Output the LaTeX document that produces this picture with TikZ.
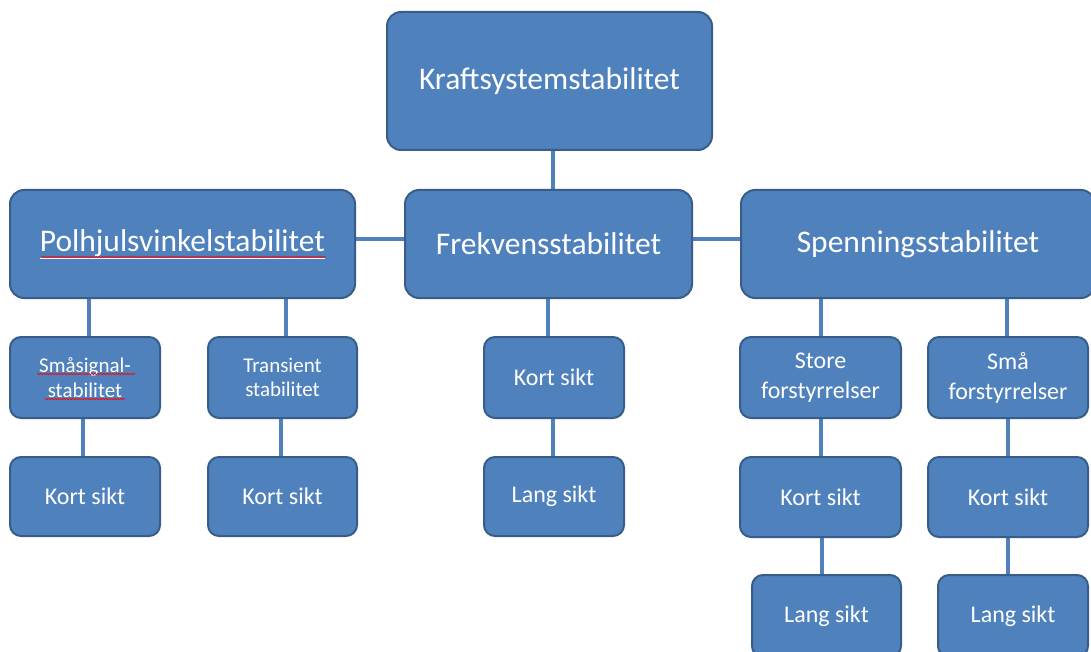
\documentclass[tikz,border=0pt]{standalone}
\usepackage{fontspec}
\setmainfont{Carlito}
\usetikzlibrary{backgrounds,decorations.pathmorphing}
\definecolor{boxfill}{HTML}{4F81BD}
\definecolor{boxline}{HTML}{385D8A}
\definecolor{conn}{HTML}{4F81BD}
\begin{document}
\begin{tikzpicture}[x=1pt,y=-1pt,
  box/.style={rectangle, rounded corners=14pt, draw=boxline, fill=boxfill, line width=2pt,
    text=white, inner sep=0pt, align=center},
  bigbox/.style={box, font=\fontsize{31.5}{36}\selectfont},
  smallbox/.style={box, rounded corners=11pt, font=\fontsize{24}{30}\selectfont},
  tinybox/.style={box, rounded corners=11pt, font=\fontsize{21}{24.5}\selectfont},
  link/.style={draw=conn, line width=4pt},
  spell/.style={draw=red, line width=0.7pt, decorate, decoration={snake, amplitude=0.7pt, segment length=3pt}}]
\useasboundingbox (0,0) rectangle (1091,652);
\clip (0,0) rectangle (1091,652);

\node[bigbox, minimum width=325pt, minimum height=138pt] (top) at (549.5,81) {Kraftsystemstabilitet};
\node[bigbox, minimum width=345pt, minimum height=108pt] (pol) at (182.5,244) {\underline{Polhjulsvinkelstabilitet}};
\node[bigbox, minimum width=287pt, minimum height=108pt] (frk) at (548.5,244) {Frekvensstabilitet};
\node[bigbox, minimum width=354pt, minimum height=108pt] (spn) at (918,244) {Spenningsstabilitet};

\node[tinybox, minimum width=150pt, minimum height=81pt] (sms) at (85,377.5) {Småsignal-\\stabilitet};
\node[tinybox, minimum width=149pt, minimum height=81pt] (tra) at (282.5,377.5) {Transient\\stabilitet};
\node[smallbox, minimum width=150pt, minimum height=79pt] (k1) at (85,496.5) {Kort sikt};
\node[smallbox, minimum width=149pt, minimum height=79pt] (k2) at (282.5,496.5) {Kort sikt};

\node[smallbox, minimum width=140pt, minimum height=81pt] (fk) at (554,377.5) {Kort sikt};
\node[smallbox, minimum width=140pt, minimum height=79pt] (fl) at (554,496.5) {Lang sikt};

\node[smallbox, minimum width=161pt, minimum height=81pt] (sto) at (820.5,377.5) {Store\\forstyrrelser};
\node[smallbox, minimum width=160pt, minimum height=81pt] (sma) at (1008,377.5) {Små\\forstyrrelser};
\node[smallbox, minimum width=161pt, minimum height=80pt] (sk) at (820.5,497) {Kort sikt};
\node[smallbox, minimum width=160pt, minimum height=80pt] (mk) at (1008,497) {Kort sikt};
\node[smallbox, minimum width=149pt, minimum height=82pt] (sl) at (826.5,616) {Lang sikt};
\node[smallbox, minimum width=150pt, minimum height=82pt] (ml) at (1013,616) {Lang sikt};

% spell-check marks
\path[spell] ([xshift=-141pt,yshift=-13pt]pol.center) -- ([xshift=143pt,yshift=-13pt]pol.center);
\path[spell] ([xshift=-48pt,yshift=3.5pt]sms.center) -- ([xshift=50pt,yshift=3.5pt]sms.center);
\path[spell] ([xshift=-40pt,yshift=-21.5pt]sms.center) -- ([xshift=40pt,yshift=-21.5pt]sms.center);

\begin{pgfonlayer}{background}
\fill[white] (0,0) rectangle (1091,652);
\draw[link] ([xshift=3.5pt]top.south) -- ([xshift=4.5pt]frk.north);
\draw[link] ([yshift=5pt]pol.east) -- ([yshift=5pt]frk.west);
\draw[link] ([yshift=5pt]frk.east) -- ([yshift=5pt]spn.west);
\draw[link] ([xshift=-93.5pt]pol.south) -- ([xshift=4pt]sms.north);
\draw[link] ([xshift=103.5pt]pol.south) -- ([xshift=3.5pt]tra.north);
\draw[link] ([xshift=-2pt]sms.south) -- ([xshift=-2pt]k1.north);
\draw[link] ([xshift=-1.5pt]tra.south) -- ([xshift=-1.5pt]k2.north);
\draw[link] ([xshift=-0.5pt]frk.south) -- ([xshift=-6pt]fk.north);
\draw[link] ([xshift=-1pt]fk.south) -- ([xshift=-1pt]fl.north);
\draw[link] ([xshift=-97pt]spn.south) -- ([xshift=0.5pt]sto.north);
\draw[link] ([xshift=89pt]spn.south) -- ([xshift=-1pt]sma.north);
\draw[link] (sto.south) -- (sk.north);
\draw[link] ([xshift=1.5pt]sk.south) -- ([xshift=-4.5pt]sl.north);
\draw[link] (sma.south) -- (mk.north);
\draw[link] (mk.south) -- ([xshift=-5pt]ml.north);
\end{pgfonlayer}
\end{tikzpicture}
\end{document}
